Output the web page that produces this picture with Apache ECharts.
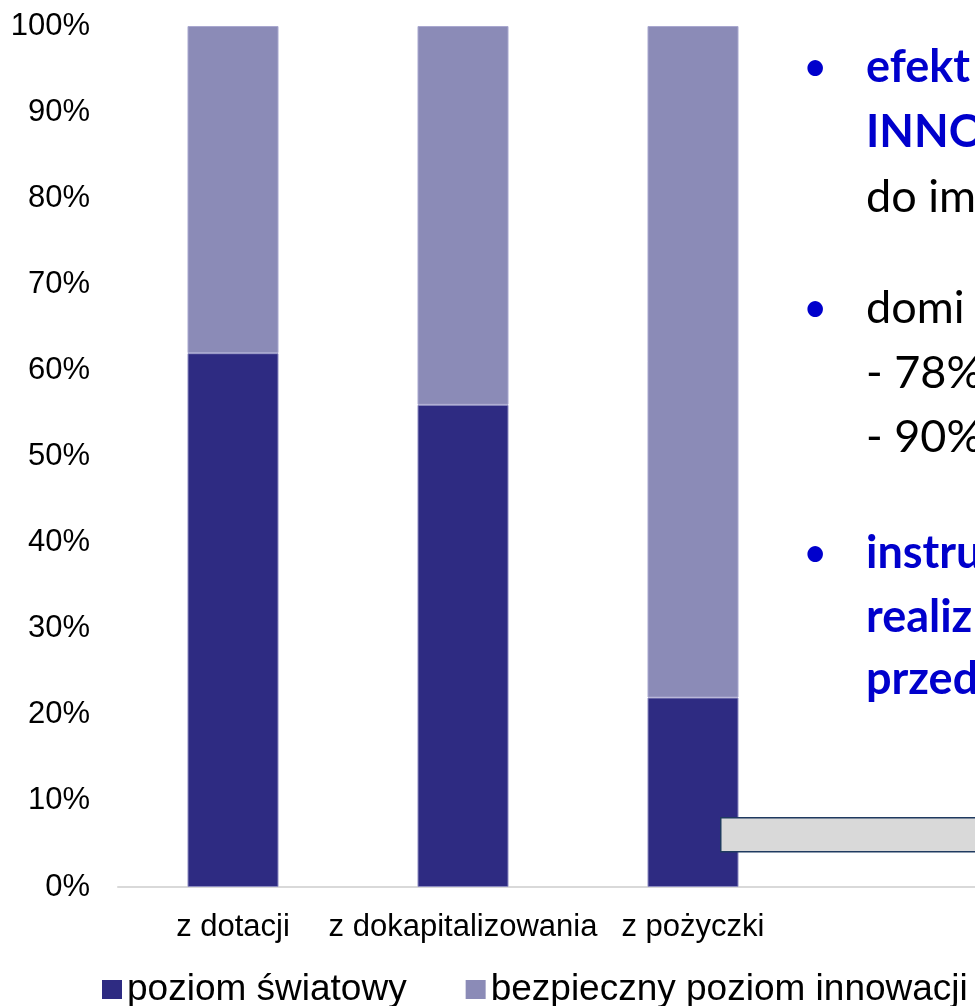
<!DOCTYPE html>
<html>
<head>
<meta charset="utf-8">
<script src="https://cdn.jsdelivr.net/npm/echarts@6/dist/echarts.min.js"></script>
<style>
html,body{margin:0;padding:0;background:#fff;overflow:hidden;}
#c{width:975px;height:1006px;}
</style>
</head>
<body>
<div id="c"></div>
<script>
var categories = ['z dotacji', 'z dokapitalizowania', 'z pożyczki'];
var seriesNames = ['poziom światowy', 'bezpieczny poziom innowacji'];
var poziomSwiatowy = [62, 56, 22];
var bezpiecznyPoziom = [38, 44, 78];
var yTicks = {min: 0, max: 100, interval: 10};
var textLines = [
  {bullet: true, text: 'efekt', bold: true, color: '#0000CC'},
  {bullet: false, text: 'INNO', bold: true, color: '#0000CC'},
  {bullet: false, text: 'do im', bold: false, color: '#000000'},
  {bullet: true, text: 'domi', bold: false, color: '#000000'},
  {bullet: false, text: '- 78%', bold: false, color: '#000000'},
  {bullet: false, text: '- 90%', bold: false, color: '#000000'},
  {bullet: true, text: 'instru', bold: true, color: '#0000CC'},
  {bullet: false, text: 'realiz', bold: true, color: '#0000CC'},
  {bullet: false, text: 'przed', bold: true, color: '#0000CC'}
];
var textBaselines = [82, 147, 212, 323, 388, 452, 568, 632, 694];

var chart = echarts.init(document.getElementById('c'), null, {renderer: 'canvas'});

var FONT = '"Liberation Sans", Arial, sans-serif';
var TFONT = 'Lato, "Open Sans", sans-serif';

var gridLeft = 118, gridRight = 167, gridTop = 26, gridBottom = 1006 - 887;

var graphics = [];
textLines.forEach(function (l, i) {
  var base = textBaselines[i];
  if (l.bullet) {
    graphics.push({
      type: 'text', left: 803, top: base - 36, z: 100,
      style: {text: '•', fill: '#0000CC', font: '42px ' + TFONT}
    });
  }
  graphics.push({
    type: 'text', left: 866, top: base - 37, z: 100,
    style: {text: l.text, fill: l.color, font: (l.bold ? 'bold ' : '') + '45px ' + TFONT}
  });
});
graphics.push({
  type: 'rect', left: 720, top: 817, z: 100,
  shape: {width: 300, height: 34},
  style: {fill: '#D9D9D9', stroke: '#1F3A60', lineWidth: 1.5}
});

var option = {
  animation: false,
  backgroundColor: '#ffffff',
  grid: {left: gridLeft, right: gridRight, top: gridTop, bottom: gridBottom, containLabel: false},
  legend: {
    data: seriesNames,
    left: 102, top: 971, width: 960, padding: 0,
    icon: 'rect', itemWidth: 20, itemHeight: 19, itemGap: 59,
    itemStyle: {borderWidth: 0},
    textStyle: {fontFamily: FONT, fontSize: 37, color: '#000'}
  },
  xAxis: {
    type: 'category', data: categories,
    axisLine: {show: true, lineStyle: {color: '#D9D9D9', width: 2}},
    axisTick: {show: false},
    axisLabel: {fontFamily: FONT, fontSize: 31, color: '#000', margin: 25, interval: 0}
  },
  yAxis: {
    type: 'value', min: yTicks.min, max: yTicks.max, interval: yTicks.interval,
    axisLine: {show: false}, axisTick: {show: false}, splitLine: {show: false},
    axisLabel: {fontFamily: FONT, fontSize: 31, color: '#000', margin: 28, formatter: '{value}%'}
  },
  series: [
    {
      name: seriesNames[0], type: 'bar', stack: 'total', data: poziomSwiatowy,
      barWidth: 91,
      itemStyle: {color: '#2E2B82', borderColor: '#8C8BC0', borderWidth: 1}
    },
    {
      name: seriesNames[1], type: 'bar', stack: 'total', data: bezpiecznyPoziom,
      barWidth: 91,
      itemStyle: {color: '#8B8BB7', borderColor: '#A9A8CF', borderWidth: 1}
    }
  ],
  graphic: graphics
};
chart.setOption(option);

// extend the category axis baseline to the right edge, as in the reference
var right = chart.getWidth() - gridRight;
var y0 = chart.convertToPixel({yAxisIndex: 0}, 0);
graphics.push({
  type: 'line', z: 1,
  shape: {x1: right, y1: y0, x2: chart.getWidth(), y2: y0},
  style: {stroke: '#D9D9D9', lineWidth: 2}
});
chart.setOption({graphic: graphics});
</script>
</body>
</html>
